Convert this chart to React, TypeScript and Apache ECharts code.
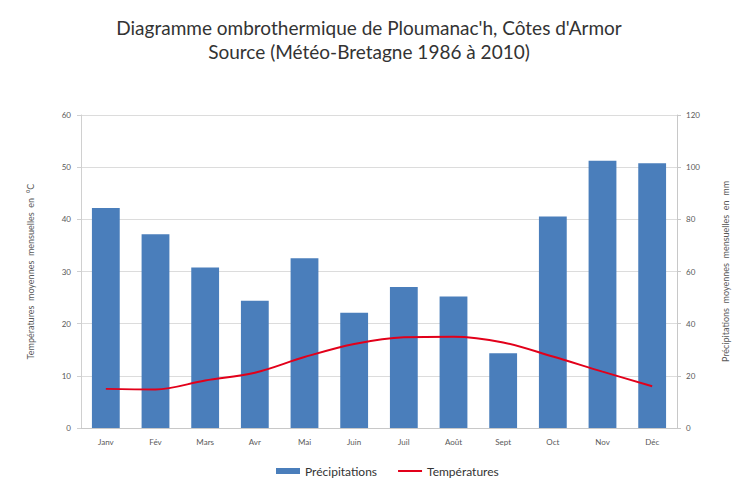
import React, { useEffect, useRef } from "react";
import * as echarts from "echarts";

const months = ["Janv", "Fév", "Mars", "Avr", "Mai", "Juin", "Juil", "Août", "Sept", "Oct", "Nov", "Déc"];
const precipitations = [84.3, 74.3, 61.5, 48.8, 65.1, 44.2, 54.1, 50.4, 28.7, 81.1, 102.5, 101.5];
const temperatures = [7.5, 7.4, 9.1, 10.6, 13.6, 16.1, 17.4, 17.5, 16.4, 13.7, 10.8, 8.0];

const FONT = "Lato, 'Open Sans', sans-serif";

export default function App() {
  const ref = useRef<HTMLDivElement>(null);
  useEffect(() => {
    if (!ref.current) return;
    const chart = echarts.init(ref.current, undefined, { renderer: "svg" });
    chart.setOption({
      animation: false,
      backgroundColor: "#ffffff",
      textStyle: { fontFamily: FONT },
      title: {
        text: "Diagramme ombrothermique de Ploumanac'h, Côtes d'Armor\nSource (Météo-Bretagne 1986 à 2010)",
        left: "center",
        top: 10,
        textStyle: { fontSize: 19, fontWeight: "normal", color: "#333333", lineHeight: 24, fontFamily: FONT },
      },
      legend: {
        left: 271,
        top: 460,
        itemWidth: 24,
        itemHeight: 6,
        itemGap: 20,
        textStyle: { fontSize: 12, color: "#333333", fontFamily: FONT },
        data: [
          { name: "Précipitations", icon: "rect" },
          { name: "Températures", itemStyle: { opacity: 0 } },
        ],
      },
      grid: { left: 81, right: 54, top: 115, bottom: 56 },
      xAxis: {
        type: "category",
        data: months,
        axisLine: { show: true, lineStyle: { color: "#c8c8c8" } },
        axisTick: { show: false },
        axisLabel: { fontSize: 8, color: "#595959", margin: 10 },
      },
      yAxis: [
        {
          type: "value",
          min: 0,
          max: 60,
          interval: 10,
          name: "Températures  moyennes  mensuelles  en  °C",
          nameLocation: "middle",
          nameRotate: 90,
          nameGap: 46,
          nameTextStyle: { fontSize: 9, color: "#595959" },
          axisLine: { show: true, lineStyle: { color: "#d0d0d0" } },
          axisTick: { show: true, length: 4, lineStyle: { color: "#d0d0d0" } },
          axisLabel: { fontSize: 8, color: "#595959", margin: 10 },
          splitLine: { show: true, lineStyle: { color: "#dcdcdc", width: 1 } },
        },
        {
          type: "value",
          min: 0,
          max: 120,
          interval: 20,
          position: "right",
          name: "Précipitations  moyennes  mensuelles  en  mm",
          nameLocation: "middle",
          nameRotate: 90,
          nameGap: 44,
          nameTextStyle: { fontSize: 9, color: "#595959" },
          axisLine: { show: true, lineStyle: { color: "#c8c8c8" } },
          axisTick: { show: true, length: 4, lineStyle: { color: "#c8c8c8" } },
          axisLabel: { fontSize: 8, color: "#595959", margin: 9 },
          splitLine: { show: false },
        },
      ],
      series: [
        {
          name: "Précipitations",
          type: "bar",
          yAxisIndex: 1,
          data: precipitations,
          barCategoryGap: "44%",
          itemStyle: { color: "#4a7ebb" },
        },
        {
          name: "Températures",
          type: "line",
          yAxisIndex: 0,
          data: temperatures,
          smooth: 0.35,
          showSymbol: false,
          symbol: "none",
          lineStyle: { color: "#e2001a", width: 2 },
          itemStyle: { color: "#e2001a" },
        },
      ],
    });
    return () => chart.dispose();
  }, []);
  return <div ref={ref} style={{ position: "absolute", left: 0, top: 0, width: 738, height: 484 }} />;
}
